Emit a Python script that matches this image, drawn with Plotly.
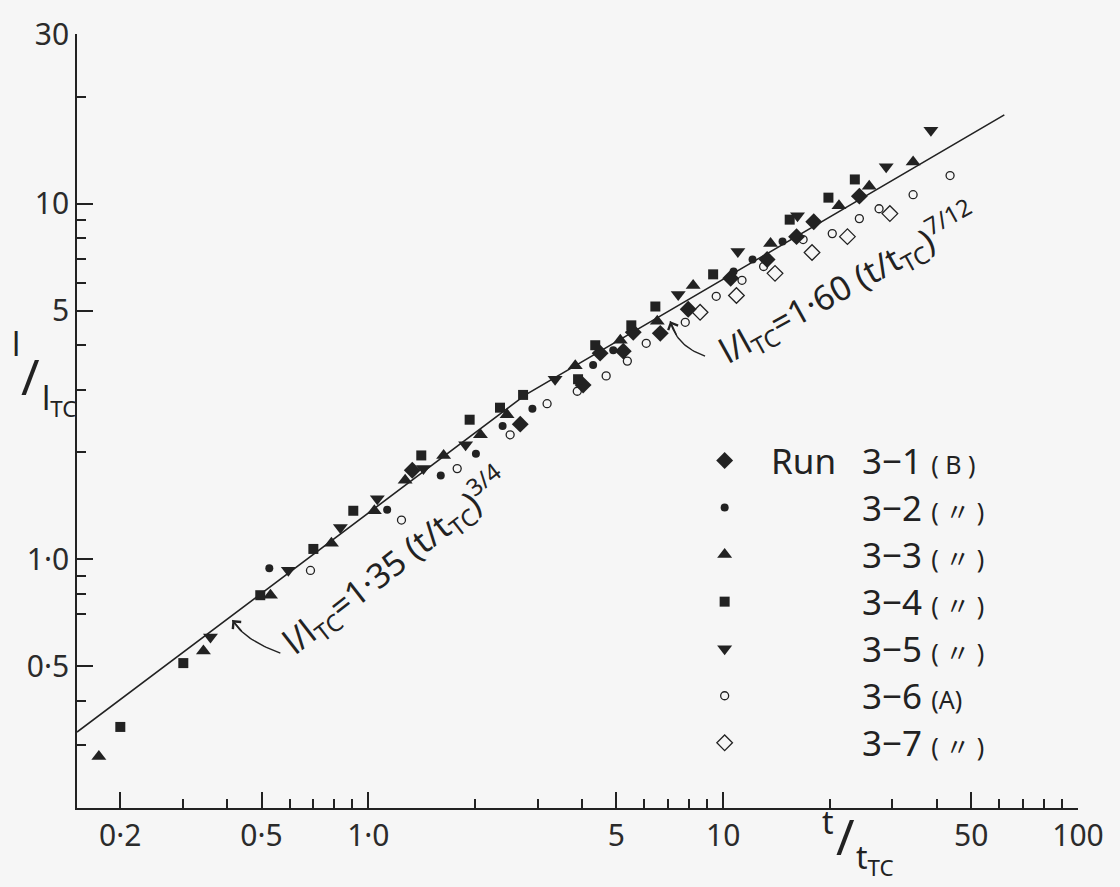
import numpy as np
import plotly.graph_objects as go

# ---------------- data ----------------
run31_t = [1.33, 2.68, 4.03, 4.50, 5.23, 5.58, 6.65, 7.97, 10.5, 13.3, 16.1, 18.0, 24.2]
run31_l = [1.78, 2.40, 3.09, 3.80, 3.85, 4.35, 4.32, 5.05, 6.17, 6.97, 8.08, 8.90, 10.5]

run32_t = [0.526, 1.13, 1.60, 2.01, 2.39, 2.90, 4.30, 4.90, 10.7, 12.1, 14.7]
run32_l = [0.944, 1.38, 1.72, 1.98, 2.37, 2.65, 3.52, 3.87, 6.45, 6.97, 7.83]

run33_t = [0.174, 0.343, 0.530, 0.787, 1.04, 1.27, 1.63, 2.07, 2.46, 3.83, 5.13,
           6.52, 8.23, 13.6, 21.2, 25.8, 34.3]
run33_l = [0.279, 0.553, 0.793, 1.11, 1.37, 1.67, 1.96, 2.24, 2.55, 3.50, 4.13,
           4.67, 5.89, 7.73, 9.87, 11.2, 13.1]

run34_t = [0.200, 0.301, 0.496, 0.700, 0.907, 1.41, 1.93, 2.35, 2.73, 3.90, 4.36,
           5.51, 6.44, 9.37, 15.4, 19.8, 23.5]
run34_l = [0.338, 0.511, 0.793, 1.07, 1.37, 1.96, 2.47, 2.67, 2.90, 3.21, 4.00,
           4.55, 5.14, 6.33, 9.02, 10.4, 11.7]

run35_t = [0.359, 0.595, 0.834, 1.06, 1.43, 1.88, 3.36, 7.47, 11.0, 16.2, 28.8, 38.5]
run35_l = [0.605, 0.932, 1.23, 1.48, 1.80, 2.10, 3.21, 5.56, 7.34, 9.25, 12.7, 16.1]

run36_t = [0.687, 1.24, 1.78, 2.51, 3.19, 3.88, 4.68, 5.37, 6.07, 7.82, 9.56, 11.3,
           13.0, 16.8, 20.3, 24.2, 27.5, 34.3, 43.6]
run36_l = [0.931, 1.29, 1.80, 2.24, 2.74, 2.97, 3.28, 3.61, 4.05, 4.64, 5.49, 6.09,
           6.66, 7.93, 8.24, 9.08, 9.68, 10.6, 12.0]

run37_t = [8.61, 10.9, 14.0, 17.8, 22.4, 29.5]
run37_l = [4.95, 5.52, 6.37, 7.29, 8.08, 9.38]

run_ids = ["3−1", "3−2", "3−3", "3−4", "3−5", "3−6", "3−7"]
run_tags = ["( B )", "( 〃 )", "( 〃 )", "( 〃 )", "( 〃 )", "(A)", "( 〃 )"]

# fitted power laws  l/l_TC = C (t/t_TC)^n
fit_coef = [1.35, 1.60]
fit_exp = [3 / 4, 7 / 12]
fit_t_end = 62.0

x_tickvals = [0.2, 0.5, 1, 5, 10, 50, 100]
x_ticktext = ["0·2", "0·5", "1·0", "5", "10", "50", "100"]
x_minor = [0.3, 0.4, 0.6, 0.7, 0.8, 0.9, 2, 3, 4, 6, 7, 8, 9, 20, 30, 40, 60, 70, 80, 90]
y_tickvals = [0.5, 1, 5, 10, 30]
y_ticktext = ["0·5", "1·0", "5", "10", "30"]
y_minor = [0.3, 0.4, 0.7, 0.8, 0.9, 2, 3, 4, 6, 7, 8, 9, 20]

# ---------------- style ----------------
FONT = "Noto Sans, Noto Sans CJK JP, sans-serif"
INK = "#222222"
BG = "#f6f6f6"
x_range = [np.log10(0.151), 2.0]
y_range = [np.log10(0.2), np.log10(30)]

series = [
    (run31_t, run31_l, "diamond", 13),
    (run32_t, run32_l, "circle", 8),
    (run33_t, run33_l, "triangle-up", 13),
    (run34_t, run34_l, "square", 10),
    (run35_t, run35_l, "triangle-down", 13),
    (run36_t, run36_l, "circle-open", 8),
    (run37_t, run37_l, "diamond-open", 12),
]

fig = go.Figure()

# fit line (two power-law segments joined at their crossing)
t_cross = (fit_coef[1] / fit_coef[0]) ** (1 / (fit_exp[0] - fit_exp[1]))
fit_t = np.array([10 ** x_range[0], t_cross, fit_t_end])
fit_l = np.where(fit_t <= t_cross,
                 fit_coef[0] * fit_t ** fit_exp[0],
                 fit_coef[1] * fit_t ** fit_exp[1])
fig.add_trace(go.Scatter(x=fit_t, y=fit_l, mode="lines",
                         line=dict(color=INK, width=1.6), hoverinfo="skip",
                         showlegend=False))

for t, l, sym, size in series:
    open_ = sym.endswith("open")
    fig.add_trace(go.Scatter(
        x=t, y=l, mode="markers", showlegend=False,
        marker=dict(symbol=sym, size=size, color=INK,
                    line=dict(color=INK, width=1.3 if open_ else 0))))

# curved pointer arrows (quadratic Bezier in log space)
pointers = [
    [(0.565, 0.545), (0.447, 0.593), (0.414, 0.675)],
    [(8.89, 3.73), (7.41, 3.97), (7.09, 4.67)],
]
annotations = []
for p0, p1, p2 in pointers:
    P = np.log10(np.array([p0, p1, p2]))
    s = np.linspace(0, 1, 25)[:, None]
    B = (1 - s) ** 2 * P[0] + 2 * (1 - s) * s * P[1] + s ** 2 * P[2]
    fig.add_trace(go.Scatter(x=10 ** B[:, 0], y=10 ** B[:, 1], mode="lines",
                             line=dict(color=INK, width=1.4), hoverinfo="skip",
                             showlegend=False))
    annotations.append(dict(x=B[-1, 0], y=B[-1, 1], ax=B[-9, 0], ay=B[-9, 1],
                            xref="x", yref="y", axref="x", ayref="y", text="",
                            showarrow=True, arrowhead=4, arrowsize=1.5,
                            arrowwidth=1.4, arrowcolor=INK))

# formula labels along the line
annotations.append(dict(
    x=np.log10(1.20), y=np.log10(0.99), xref="x", yref="y", textangle=-38,
    text="l/l<sub>TC</sub>=1·35 (t/t<sub>TC</sub>)<sup>3/4</sup>",
    showarrow=False, font=dict(family=FONT, size=34, color=INK)))
annotations.append(dict(
    x=np.log10(22.5), y=np.log10(5.95), xref="x", yref="y", textangle=-29,
    text="l/l<sub>TC</sub>=1·60 (t/t<sub>TC</sub>)<sup>7/12</sup>",
    showarrow=False, font=dict(family=FONT, size=34, color=INK)))

# axis titles (stacked-fraction style)
def ttl(text, x, y, size, xanchor="center"):
    return dict(text=text, x=x, y=y, xref="paper", yref="paper", showarrow=False,
                xanchor=xanchor, yanchor="middle",
                font=dict(family=FONT, size=size, color=INK))

annotations += [
    ttl("l", -0.061, 0.600, 32),
    ttl("/", -0.046, 0.558, 50),
    ttl("l<sub>TC</sub>", -0.037, 0.527, 32, "left"),
    ttl("t", 0.750, -0.018, 32),
    ttl("/", 0.768, -0.036, 50),
    ttl("t<sub>TC</sub>", 0.776, -0.066, 32, "left"),
]

# legend (drawn on an overlay unit axis)
leg_x, leg_y0, leg_dy = 0.647, 0.449, 0.0608
for i, (t, l, sym, size) in enumerate(series):
    open_ = sym.endswith("open")
    yy = leg_y0 - i * leg_dy
    fig.add_trace(go.Scatter(
        x=[leg_x], y=[yy], xaxis="x2", yaxis="y2", mode="markers",
        showlegend=False, hoverinfo="skip",
        marker=dict(symbol=sym, size=size, color=INK,
                    line=dict(color=INK, width=1.3 if open_ else 0))))
    annotations.append(dict(
        x=0.782, y=yy, xref="x2", yref="y2", xanchor="left", yanchor="middle",
        showarrow=False,
        text=f"{run_ids[i]} <span style='font-size:25px'>{run_tags[i]}</span>",
        font=dict(family=FONT, size=35, color=INK)))
annotations.append(dict(x=0.691, y=leg_y0, xref="x2", yref="y2", xanchor="left",
                        yanchor="middle", showarrow=False, text="Run",
                        font=dict(family=FONT, size=35, color=INK)))

axis_common = dict(type="log", showgrid=False, zeroline=False, showline=True,
                   linecolor=INK, linewidth=1.6, ticks="inside", ticklen=16,
                   tickwidth=1.5, tickcolor=INK, mirror=False,
                   tickfont=dict(family=FONT, size=30, color="#2b2b2b"))

fig.update_layout(
    width=1120, height=887,
    margin=dict(l=77, r=42, t=29, b=79),
    paper_bgcolor=BG, plot_bgcolor=BG,
    showlegend=False,
    xaxis=dict(range=x_range, tickmode="array", tickvals=x_tickvals,
               ticktext=x_ticktext,
               minor=dict(tickmode="array", tickvals=x_minor, ticks="inside",
                          ticklen=9, tickwidth=1.5, tickcolor=INK, showgrid=False),
               **axis_common),
    yaxis=dict(range=y_range, tickmode="array", tickvals=y_tickvals,
               ticktext=y_ticktext,
               minor=dict(tickmode="array", tickvals=y_minor, ticks="inside",
                          ticklen=9, tickwidth=1.5, tickcolor=INK, showgrid=False),
               **axis_common),
    xaxis2=dict(overlaying="x", range=[0, 1], visible=False, anchor="y2"),
    yaxis2=dict(overlaying="y", range=[0, 1], visible=False, anchor="x2"),
    annotations=annotations,
)

fig.write_html("out.html")
